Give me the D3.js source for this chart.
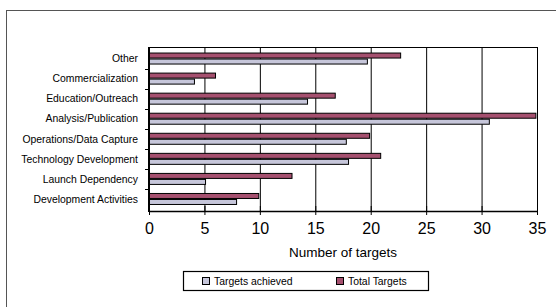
<!DOCTYPE html>
<html>
<head>
<meta charset="utf-8">
<script src="https://cdn.jsdelivr.net/npm/d3@7"></script>
<style>
  html, body { margin: 0; padding: 0; background: #fff; }
  svg { display: block; font-family: "Liberation Sans", Arial, sans-serif; }
</style>
</head>
<body>
<div id="chart"></div>
<script>
// Categories top to bottom
const categories = [
  'Other',
  'Commercialization',
  'Education/Outreach',
  'Analysis/Publication',
  'Operations/Data Capture',
  'Technology Development',
  'Launch Dependency',
  'Development Activities',
];
const totalTargets = [22.7, 6.0, 16.8, 34.9, 19.9, 20.9, 12.9, 9.9];
const targetsAchieved = [19.7, 4.1, 14.3, 30.7, 17.8, 18.0, 5.1, 7.9];
const xTicks = [0, 5, 10, 15, 20, 25, 30, 35];

const colors = { total: '#A5506F', achieved: '#C6C6DA' };

const width = 556, height = 307;
const plot = { left: 149, right: 537, top: 47, bottom: 211 };

const svg = d3.select('#chart').append('svg')
  .attr('width', width)
  .attr('height', height);

// Outer chart border (runs off the right and bottom)
svg.append('rect')
  .attr('x', 6.5).attr('y', 10.5)
  .attr('width', 600).attr('height', 400)
  .attr('fill', 'none')
  .attr('stroke', '#555')
  .attr('stroke-width', 1);

const x = d3.scaleLinear().domain([0, 35]).range([plot.left, plot.right]);
const y = d3.scaleBand().domain(categories).range([48.5, 209]);

// Gridlines
svg.append('g')
  .selectAll('line')
  .data(xTicks.slice(1))
  .join('line')
  .attr('x1', d => x(d) + 0.5).attr('x2', d => x(d) + 0.5)
  .attr('y1', plot.top).attr('y2', plot.bottom)
  .attr('stroke', '#000')
  .attr('stroke-width', 1);

// Top border of plot
svg.append('line')
  .attr('x1', plot.left).attr('x2', plot.right + 1)
  .attr('y1', plot.top + 0.5).attr('y2', plot.top + 0.5)
  .attr('stroke', '#000');

// Bars
const barH = 5;
const rows = categories.map((c, i) => ({ cat: c, total: totalTargets[i], achieved: targetsAchieved[i] }));
const groups = svg.append('g')
  .selectAll('g')
  .data(rows)
  .join('g')
  .attr('transform', d => `translate(0,${y(d.cat) + y.bandwidth() / 2})`);

groups.append('rect')
  .attr('x', x(0))
  .attr('y', -barH - 0.5)
  .attr('width', d => x(d.total) - x(0))
  .attr('height', barH)
  .attr('fill', colors.total)
  .attr('stroke', '#000')
  .attr('stroke-width', 1);

groups.append('rect')
  .attr('x', x(0))
  .attr('y', 0.5)
  .attr('width', d => x(d.achieved) - x(0))
  .attr('height', barH)
  .attr('fill', colors.achieved)
  .attr('stroke', '#000')
  .attr('stroke-width', 1);

// X axis
const xAxis = svg.append('g')
  .attr('transform', `translate(0,${plot.bottom})`)
  .call(d3.axisBottom(x).tickValues(xTicks).tickSize(4).tickPadding(8).tickSizeOuter(0));
xAxis.select('.domain').attr('stroke', '#000').attr('stroke-width', 1.5);
xAxis.selectAll('.tick line').attr('y1', -5).attr('y2', 4).attr('stroke', '#000');
xAxis.selectAll('.tick text')
  .attr('font-size', 16)
  .attr('fill', '#000')
  .attr('font-family', '"Liberation Sans", Arial, sans-serif');

// Y axis
const yAxis = svg.append('g')
  .attr('transform', `translate(${plot.left},0)`)
  .call(d3.axisLeft(y).tickSize(0).tickPadding(11));
yAxis.select('.domain').remove();
yAxis.selectAll('.tick text')
  .attr('font-size', 10.4)
  .attr('fill', '#000')
  .attr('dy', '0.36em')
  .attr('font-family', '"Liberation Sans", Arial, sans-serif');

svg.append('line')
  .attr('x1', plot.left).attr('x2', plot.left)
  .attr('y1', plot.top).attr('y2', plot.bottom + 1)
  .attr('stroke', '#000')
  .attr('stroke-width', 2);

// Y tick marks at band boundaries
const yBounds = categories.slice(1).map(c => y(c));
svg.append('g')
  .selectAll('line')
  .data(yBounds)
  .join('line')
  .attr('x1', plot.left - 4).attr('x2', plot.left)
  .attr('y1', d => Math.round(d) + 0.5).attr('y2', d => Math.round(d) + 0.5)
  .attr('stroke', '#000');

// Axis title
svg.append('text')
  .attr('x', (plot.left + plot.right) / 2)
  .attr('y', 257)
  .attr('text-anchor', 'middle')
  .attr('font-size', 13.5)
  .attr('fill', '#000')
  .text('Number of targets');

// Legend
const legend = svg.append('g');
legend.append('rect')
  .attr('x', 183.5).attr('y', 271.5)
  .attr('width', 245).attr('height', 19)
  .attr('fill', '#fff')
  .attr('stroke', '#000')
  .attr('stroke-width', 1.2);

const legendItems = [
  { label: 'Targets achieved', color: colors.achieved, x: 202 },
  { label: 'Total Targets', color: colors.total, x: 336 },
];
const li = legend.selectAll('g.item')
  .data(legendItems)
  .join('g')
  .attr('class', 'item')
  .attr('transform', d => `translate(${d.x},277)`);
li.append('rect')
  .attr('x', 0.5).attr('y', 0.5)
  .attr('width', 7).attr('height', 7)
  .attr('fill', d => d.color)
  .attr('stroke', '#000');
li.append('text')
  .attr('x', 12)
  .attr('y', 8)
  .attr('font-size', 10.4)
  .attr('fill', '#000')
  .text(d => d.label);
</script>
</body>
</html>
